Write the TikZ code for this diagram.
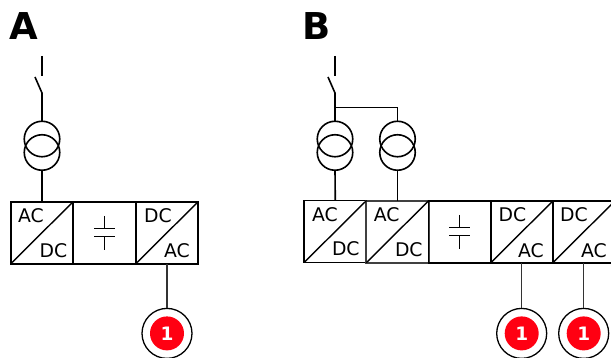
\documentclass[tikz,border=0pt]{standalone}
\usepackage{fontspec}
\setmainfont{DejaVu Sans}
\definecolor{flagred}{RGB}{255,0,18}
\tikzset{
  wire/.style={line width=1.6pt,black},
  thinwire/.style={line width=1.4pt,black},
  leadwire/.style={line width=1.5pt,black!80},
  conv/.style={draw=black,line width=1.8pt,minimum width=62.4pt,minimum height=62pt,inner sep=0,outer sep=0,rectangle},
  xfmr/.style={draw=black,line width=1.6pt,circle,minimum size=35.5pt,inner sep=0,outer sep=0},
  ring/.style={draw=black,line width=1.3pt,circle,minimum size=50pt,inner sep=0,outer sep=0},
  flag/.style={fill=flagred,circle,minimum size=34pt,inner sep=0,outer sep=0,text=white,font=\fontsize{18.5}{18.5}\selectfont\bfseries},
  lab/.style={inner sep=0,outer sep=0,font=\fontsize{18.8}{18.8}\selectfont,text=black},
  ttl/.style={inner sep=0,outer sep=0,font=\fontsize{37}{37}\selectfont\bfseries},
}
\begin{document}
\begin{tikzpicture}[x=1pt,y=-1pt]
\clip (0,0) rectangle (611,358);
% ---------- A
\node[ttl] (ta) at (24,26) {A};
\coordinate (as0) at (42,56);
\coordinate (as1) at (42,76);
\coordinate (as2) at (35,77);
\coordinate (as3) at (42,93);
\node[xfmr] (at1) at (42,139) {};
\node[xfmr] (at2) at (42,152.5) {};
\node[conv] (a1) at (42,232.7) {};
\node[conv] (a2) at (104.5,232.7) {};
\node[conv] (a3) at (167,232.7) {};
\draw[wire] (as0) -- (as1);
\draw[wire] (as2) -- (as3) -- (at1.north);
\draw[wire] (at2.south) -- (a1.north);
\draw[thinwire] (a1.south west) -- (a1.north east);
\draw[thinwire] (a3.south west) -- (a3.north east);
\node[lab] (a1t) at (31,215.7) {AC};
\node[lab] (a1b) at (53.5,251) {DC};
\node[lab] (a3t) at (158,216) {DC};
\node[lab] (a3b) at (177,251) {AC};
\draw[thinwire] (104.5,216) -- (104.5,228.7) (94,228.7) -- (115,228.7);
\draw[thinwire] (104.5,250) -- (104.5,236.7) (94,236.7) -- (115,236.7);
\node[ring] (ar) at (167,333.4) {};
\node[flag] (af) at (167,333.4) {1};
\draw[leadwire] (a3.south) -- (ar.north);
% ---------- B
\node[ttl] (tb) at (317,26) {B};
\coordinate (bs0) at (335,56);
\coordinate (bs1) at (335,76);
\coordinate (bs2) at (328,77);
\coordinate (bs3) at (335,93);
\coordinate (bj) at (335,107.5);
\node[xfmr] (bt1) at (335,139) {};
\node[xfmr] (bt2) at (335,152.5) {};
\node[xfmr] (bt3) at (397.5,139) {};
\node[xfmr] (bt4) at (397.5,152.5) {};
\node[conv] (b1) at (335.3,231.5) {};
\node[conv,draw=black!75] (b2) at (397.5,231.7) {};
\node[conv] (b3) at (459.7,231.7) {};
\node[conv] (b4) at (522,231.7) {};
\node[conv] (b5) at (584,231.7) {};
\draw[wire] (bs0) -- (bs1);
\draw[wire] (bs2) -- (bs3) -- (bt1.north);
\draw[wire] (bj) -| (bt3.north);
\draw[wire] (bt2.south) -- (b1.north);
\draw[wire] (bt4.south) -- (b2.north);
\draw[thinwire] (b1.south west) -- (b1.north east);
\draw[thinwire] (b2.south west) -- (b2.north east);
\draw[thinwire] (b4.south west) -- (b4.north east);
\draw[thinwire] (b5.south west) -- (b5.north east);
\node[lab] (b1t) at (325,214.3) {AC};
\node[lab] (b1b) at (345.8,249) {DC};
\node[lab] (b2t) at (386.7,215) {AC};
\node[lab] (b2b) at (408.8,250) {DC};
\node[lab] (b4t) at (512.5,215) {DC};
\node[lab] (b4b) at (531,250.5) {AC};
\node[lab] (b5t) at (574,215) {DC};
\node[lab] (b5b) at (594,250.5) {AC};
\draw[thinwire] (459.5,215) -- (459.5,227.5) (449,227.5) -- (470,227.5);
\draw[thinwire] (459.5,249) -- (459.5,235.5) (449,235.5) -- (470,235.5);
\node[ring] (br1) at (521.7,333.4) {};
\node[flag] (bf1) at (521.7,333.4) {1};
\node[ring] (br2) at (583.7,333.4) {};
\node[flag] (bf2) at (583.7,333.4) {1};
\draw[leadwire] (b4.south -| br1.north) -- (br1.north);
\draw[leadwire] (b5.south -| br2.north) -- (br2.north);
\end{tikzpicture}
\end{document}
